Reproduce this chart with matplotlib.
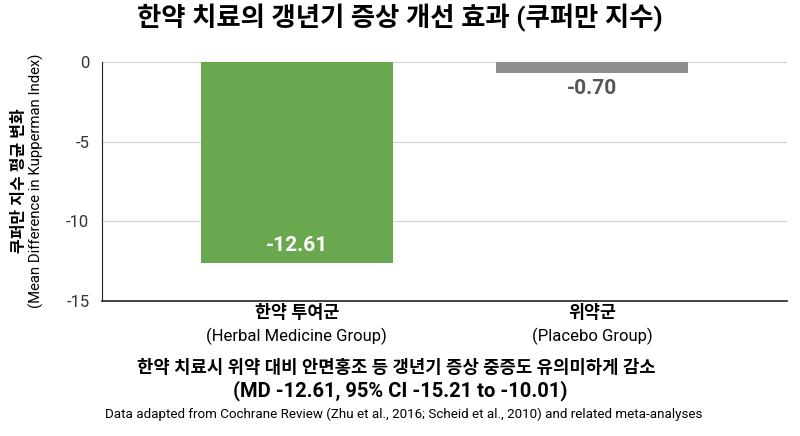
import matplotlib.pyplot as plt
import numpy as np

plt.rcParams['font.family'] = ['Roboto', 'Noto Sans CJK KR', 'DejaVu Sans']

groups_kr = ['한약 투여군', '위약군']
groups_en = ['(Herbal Medicine Group)', '(Placebo Group)']
mean_diff = [-12.61, -0.70]
bar_colors = ['#6aa84f', '#8e8e8e']
yticks = [0, -5, -10, -15]

fig = plt.figure(figsize=(8, 4.36), dpi=100)
ax = fig.add_axes([0.1275, 0.310, 0.856, 0.548])

x = np.arange(len(mean_diff))
bars = ax.bar(x, mean_diff, width=0.65, color=bar_colors, zorder=3)

ax.set_ylim(-15, 0)
ax.set_xlim(-0.66, 1.66)
ax.set_yticks(yticks)
ax.set_yticklabels([str(t) for t in yticks], fontsize=12, color='#333333')
ax.tick_params(axis='y', length=0, pad=9)
ax.tick_params(axis='x', length=0)
ax.set_xticks([])
ax.grid(axis='y', color='#d0d0d0', linewidth=0.8, zorder=0)
ax.spines['top'].set_visible(False)
ax.spines['right'].set_visible(False)
ax.spines['left'].set_color('#222222')
ax.spines['bottom'].set_color('#222222')
ax.spines['bottom'].set_linewidth(1.2)

# value labels
ax.text(x[0], mean_diff[0] + 1.1, f'{mean_diff[0]:.2f}', ha='center', va='center',
        color='white', fontsize=15, fontweight='bold')
ax.text(x[1], mean_diff[1] - 1.0, f'{mean_diff[1]:.2f}', ha='center', va='center',
        color='#555555', fontsize=15, fontweight='bold')

# category labels
for xi, kr, en in zip(x, groups_kr, groups_en):
    ax.text(xi, -15.75, kr, ha='center', va='center', fontsize=12.5, fontweight='bold',
            clip_on=False)
    ax.text(xi, -17.2, en, ha='center', va='center', fontsize=12, clip_on=False)

fig.text(0.5, 0.958, '한약 치료의 갱년기 증상 개선 효과 (쿠퍼만 지수)', ha='center', va='center',
         fontsize=19, fontweight='bold')

fig.text(0.025, 0.585, '쿠퍼만 지수 평균 변화', rotation=90, ha='center', va='center',
         fontsize=11.5, fontweight='bold')
fig.text(0.046, 0.585, '(Mean Difference in Kupperman Index)', rotation=90, ha='center',
         va='center', fontsize=10.7)

fig.text(0.495, 0.155, '한약 치료시 위약 대비 안면홍조 등 갱년기 증상 중증도 유의미하게 감소',
         ha='center', va='center', fontsize=12.8, fontweight='bold')
fig.text(0.5, 0.105, '(MD -12.61, 95% CI -15.21 to -10.01)', ha='center', va='center',
         fontsize=14.5, fontweight='bold')
fig.text(0.505, 0.05, 'Data adapted from Cochrane Review (Zhu et al., 2016; Scheid et al., 2010) and related meta-analyses',
         ha='center', va='center', fontsize=9.6)

fig.savefig('out.png', dpi=100, facecolor='white')
